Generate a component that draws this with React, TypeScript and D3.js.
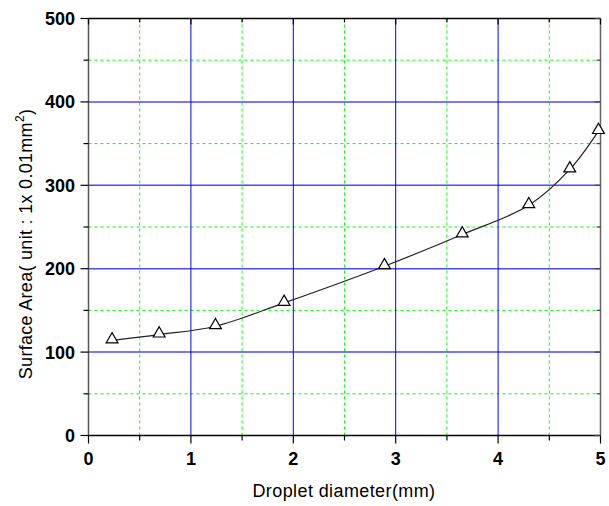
import React from "react";
import * as d3 from "d3";

const diameters = [0.23, 0.69, 1.24, 1.91, 2.89, 3.65, 4.30, 4.70, 4.98];
const areas = [114, 121, 131, 159, 203, 241, 276, 319, 365];
const xTicks = [0, 1, 2, 3, 4, 5];
const xMinor = [0.5, 1.5, 2.5, 3.5, 4.5];
const yTicks = [0, 100, 200, 300, 400, 500];
const yMinor = [50, 150, 250, 350, 450];

const W = 609;
const H = 506;
const L = 88.5, R = 600.5, T = 18.5, B = 435.5;

export default function App() {
  const x = d3.scaleLinear().domain([0, 5]).range([L, R]);
  const y = d3.scaleLinear().domain([0, 500]).range([B, T]);
  const pts: [number, number][] = diameters.map((d, i) => [d, areas[i]]);
  const line = d3
    .line<[number, number]>()
    .x((d) => x(d[0]))
    .y((d) => y(d[1]))
    .curve(d3.curveCatmullRom.alpha(0.5));
  const tri = d3.symbol().type(d3.symbolTriangle).size(60)();
  const font = "Arial, 'Liberation Sans', sans-serif";
  return (
    <svg width={W} height={H} style={{ position: "absolute", left: 0, top: 0 }}>
      <rect width={W} height={H} fill="#fff" />
      {xMinor.map((v) => (
        <line key={"xm" + v} x1={x(v)} x2={x(v)} y1={T} y2={B} stroke="#00ff00" strokeDasharray="3,3" strokeWidth={1} />
      ))}
      {yMinor.map((v) => (
        <line key={"ym" + v} x1={L} x2={R} y1={y(v)} y2={y(v)} stroke="#00ff00" strokeDasharray="3,3" strokeWidth={1} />
      ))}
      {yTicks.slice(1, -1).map((v) => (
        <line key={"yg" + v} x1={L} x2={R} y1={y(v)} y2={y(v)} stroke="#4a4aff" strokeWidth={1.5} />
      ))}
      {xTicks.slice(1, -1).map((v) => (
        <line key={"xg" + v} x1={x(v)} x2={x(v)} y1={T} y2={B} stroke="#0000ff" strokeWidth={1} />
      ))}
      <line x1={L} x2={R} y1={T} y2={T} stroke="#000" strokeWidth={1.5} />
      <line x1={L} x2={R} y1={B} y2={B} stroke="#000" strokeWidth={1.5} />
      <line x1={L} x2={L} y1={T} y2={B} stroke="#555" strokeWidth={1.5} />
      <line x1={R} x2={R} y1={T} y2={B} stroke="#666" strokeWidth={1.5} />
      {xTicks.map((v) => (
        <g key={"xt" + v}>
          <line x1={x(v)} x2={x(v)} y1={B} y2={B + 8} stroke="#000" strokeWidth={1.2} />
          <line x1={x(v)} x2={x(v)} y1={T} y2={T + 6} stroke="#000" strokeWidth={1.2} />
          <text x={x(v)} y={465} textAnchor="middle" fontFamily={font} fontWeight="bold" fontSize={18}>{v}</text>
        </g>
      ))}
      {xMinor.map((v) => (
        <g key={"xmt" + v}>
          <line x1={x(v)} x2={x(v)} y1={B} y2={B + 5} stroke="#000" strokeWidth={1.2} />
          <line x1={x(v)} x2={x(v)} y1={T} y2={T + 4} stroke="#000" strokeWidth={1.2} />
        </g>
      ))}
      {yTicks.map((v) => (
        <g key={"yt" + v}>
          <line x1={L - 8} x2={L} y1={y(v)} y2={y(v)} stroke="#000" strokeWidth={1.2} />
          <line x1={R - 6} x2={R} y1={y(v)} y2={y(v)} stroke="#444" strokeWidth={1.2} />
          <text x={75} y={y(v) + 6.5} textAnchor="end" fontFamily={font} fontWeight="bold" fontSize={18}>{v}</text>
        </g>
      ))}
      {yMinor.map((v) => (
        <g key={"ymt" + v}>
          <line x1={L - 5} x2={L} y1={y(v)} y2={y(v)} stroke="#000" strokeWidth={1.2} />
          <line x1={R - 4} x2={R} y1={y(v)} y2={y(v)} stroke="#444" strokeWidth={1.2} />
        </g>
      ))}
      <path d={line(pts) || ""} fill="none" stroke="#222" strokeWidth={1.2} />
      {pts.map((p, i) => (
        <path key={"p" + i} d={tri || ""} transform={`translate(${x(p[0])},${y(p[1]) - 1})`} fill="#fff" stroke="#000" strokeWidth={1.2} />
      ))}
      <text x={344} y={497} textAnchor="middle" fontFamily={font} fontSize={18} letterSpacing={0.4}>Droplet diameter(mm)</text>
      <text transform="translate(32,244) rotate(-90)" textAnchor="middle" fontFamily={font} fontSize={18} letterSpacing={0.3}>
        Surface Area( unit : 1x 0.01mm<tspan dy={-8} fontSize={12}>2</tspan><tspan dy={8}>)</tspan>
      </text>
    </svg>
  );
}
